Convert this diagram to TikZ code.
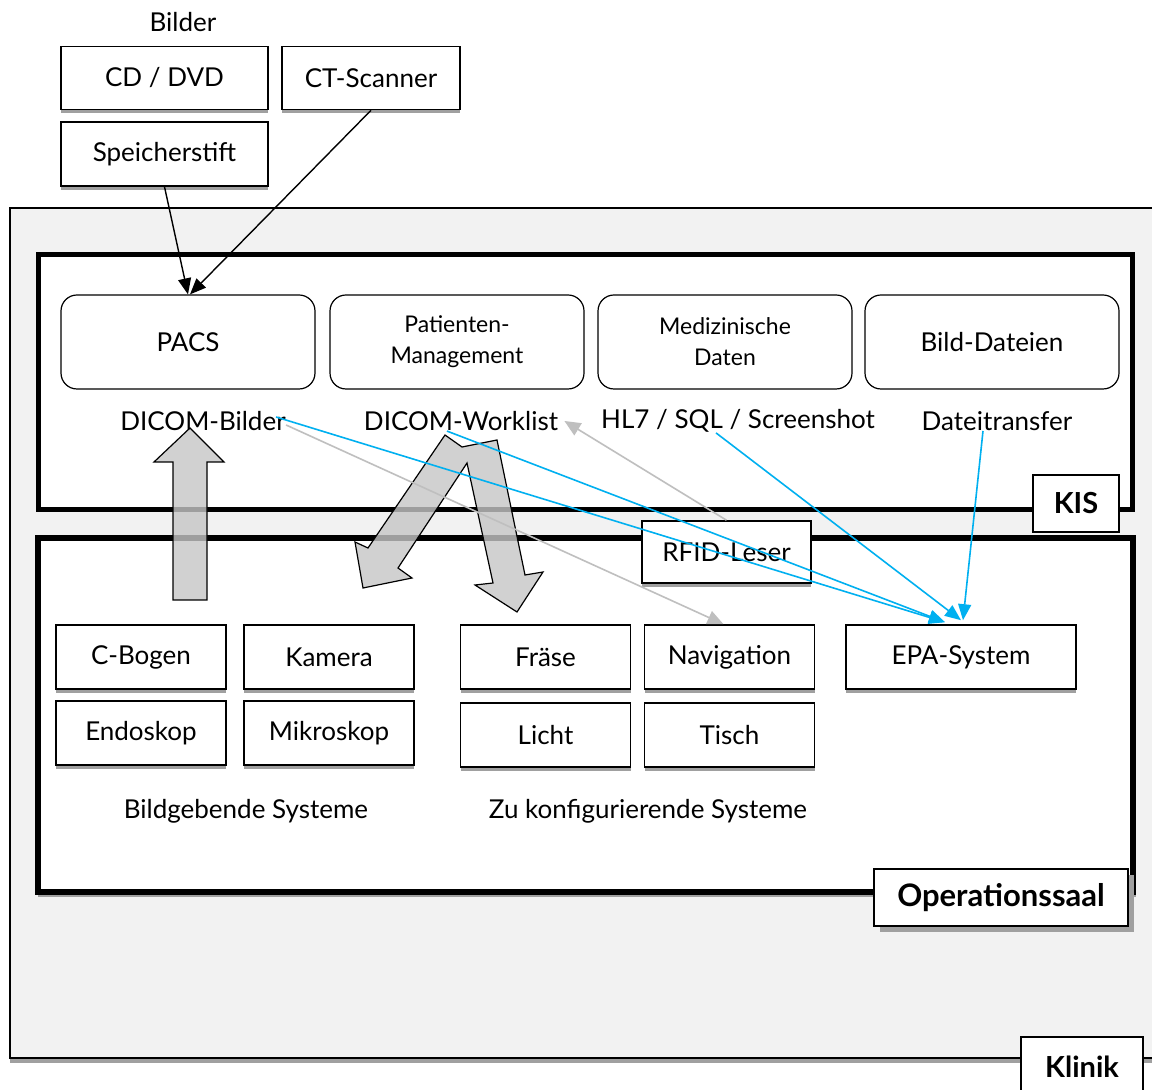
\documentclass[tikz,border=0pt]{standalone}
\usepackage{fontspec}
\setmainfont{Lato}
\usetikzlibrary{shadows, positioning, arrows.meta}

\definecolor{klinikgrey}{RGB}{242,242,242}
\definecolor{epablue}{RGB}{0,176,240}
\definecolor{linegrey}{RGB}{191,191,191}
\definecolor{shadegrey}{RGB}{160,160,160}

\tikzset{
  txt/.style={inner sep=0pt, font=\fontsize{13}{15}\selectfont},
  sysbox/.style={draw, fill=white, line width=0.8pt, inner sep=0pt,
    minimum height=32pt, font=\fontsize{13}{15}\selectfont,
    drop shadow={shadow xshift=0pt, shadow yshift=-2pt, fill=shadegrey, opacity=1}},
  kisbox/.style={draw, fill=white, line width=0.6pt, rounded corners=8pt,
    minimum width=127pt, minimum height=47pt, align=center,
    font=\fontsize{13}{15}\selectfont},
  smalltxt/.style={font=\fontsize{11.5}{15.5}\selectfont},
  tag/.style={draw, fill=white, line width=0.8pt, inner sep=0pt,
    font=\bfseries\fontsize{14.5}{16}\selectfont},
  bigarrow/.style={draw=black, line width=0.6pt, fill=gray!45, fill opacity=0.8},
  blackflow/.style={line width=0.7pt, -{Triangle[length=8pt, width=6.5pt]}},
  blueflow/.style={draw=epablue, line width=0.8pt, -{Triangle[length=8pt, width=6.5pt]}},
  greyflow/.style={draw=linegrey, line width=0.8pt, -{Triangle[length=8pt, width=7pt]}}
}

\begin{document}
\begin{tikzpicture}[x=0.5pt, y=-0.5pt]
  \useasboundingbox[fill=white] (0,0) rectangle (1152,1090);

  % Klinik
  \fill[shadegrey] (10,1058) rectangle (1175,1063);
  \draw[fill=klinikgrey, line width=0.8pt] (10,208) rectangle (1175,1058);
  % KIS
  \draw[fill=white, line width=2.5pt] (38,255) rectangle (1132,510);
  % Operationssaal
  \fill[shadegrey] (38,892) rectangle (1136,897);
  \draw[fill=white, line width=3pt] (38,538) rectangle (1133,892);

  % Bilder
  \node[txt] (bilder) at (183,22) {Bilder};
  \node[sysbox, minimum width=103.5pt, minimum height=31.5pt] (cd) at (164.5,78) {CD / DVD};
  \node[sysbox, minimum width=89pt, minimum height=31.5pt] (ct) at (371,78) {CT-Scanner};
  \node[sysbox, minimum width=103.5pt] (stift) at (164.5,154) {Speicherstift};

  % KIS inhalt
  \node[kisbox] (pacs) at (188,342) {PACS};
  \node[kisbox, smalltxt] (patman) at (457,342) {Patienten-\\Management};
  \node[kisbox, smalltxt] (meddat) at (725,342) {Medizinische\\Daten};
  \node[kisbox] (bilddat) at (992,342) {Bild-Dateien};

  \node[txt] (dbilder) at (203,421) {DICOM-Bilder};
  \node[txt] (dwork) at (461,421) {DICOM-Worklist};
  \node[txt] (hl7) at (738,421) {HL7 / SQL / Screenshot};
  \node[txt] (datei) at (997,421) {Dateitransfer};

  \node[tag, minimum width=43pt, minimum height=28.5pt] (kis) at (1076,503.5) {KIS};

  % Operationssaal inhalt
  \node[sysbox, minimum width=84.5pt, minimum height=31pt] (rfid) at (726.5,552) {RFID-Leser};

  \foreach \name/\x/\y/\label in {
    cbogen/141/657/C-Bogen,
    kamera/329/657/Kamera,
    endo/141/733/Endoskop,
    mikro/329/733/Mikroskop,
    fraese/545.5/657/Fräse,
    navi/729.5/657/Navigation,
    licht/545.5/735/Licht,
    tisch/729.5/735/Tisch
  }{
    \node[sysbox, minimum width=85pt] (\name) at (\x,\y) {\label};
  }
  \node[sysbox, minimum width=115pt] (epa) at (961,657) {EPA-System};

  \node[txt] (bildsys) at (246,811) {Bildgebende Systeme};
  \node[txt] (konfsys) at (648,811) {Zu konfigurierende Systeme};

  \node[tag, minimum width=127pt, minimum height=28.5pt, font=\bfseries\fontsize{15.5}{17}\selectfont,
    drop shadow={shadow xshift=3pt, shadow yshift=-3pt, fill=shadegrey, opacity=1}]
    (opsaal) at (1001,897.5) {Operationssaal};
  \node[tag, minimum width=61pt, minimum height=30pt] (klinik) at (1082,1067) {Klinik};

  % grosse Pfeile
  \draw[bigarrow] (173,600) -- (173,462) -- (154,462) -- (190,428)
    -- (224,462) -- (207,462) -- (207,600) -- cycle;
  \draw[bigarrow] (445,435) -- (368,548) -- (355,542) -- (363,588)
    -- (412,578) -- (398,568) -- (467,463) -- (493,583) -- (475,585)
    -- (517,612) -- (543,572) -- (525,575) -- (497,440) -- (462,447) -- cycle;

  % Verbindungen
  \draw[blackflow] (stift.south) -- (pacs.north);
  \draw[blackflow] (ct.south) -- ([xshift=1pt]pacs.north);

  \draw[greyflow] ([yshift=-2pt]dbilder.east) -- ([xshift=-3pt]navi.north);
  \draw[greyflow] (rfid.north) -- ([xshift=3pt]dwork.east);

  \draw[blueflow] ([xshift=-5pt, yshift=2pt]dbilder.east) -- ([xshift=-8pt, yshift=1pt]epa.north);
  \draw[blueflow] ([xshift=-7pt]dwork.south) -- ([xshift=-8pt, yshift=1pt]epa.north);
  \draw[blueflow] ([xshift=-11pt]hl7.south) -- ([xshift=0pt, yshift=2pt]epa.north);
  \draw[blueflow] ([xshift=-7pt]datei.south) -- ([xshift=1pt, yshift=2pt]epa.north);
\end{tikzpicture}
\end{document}
